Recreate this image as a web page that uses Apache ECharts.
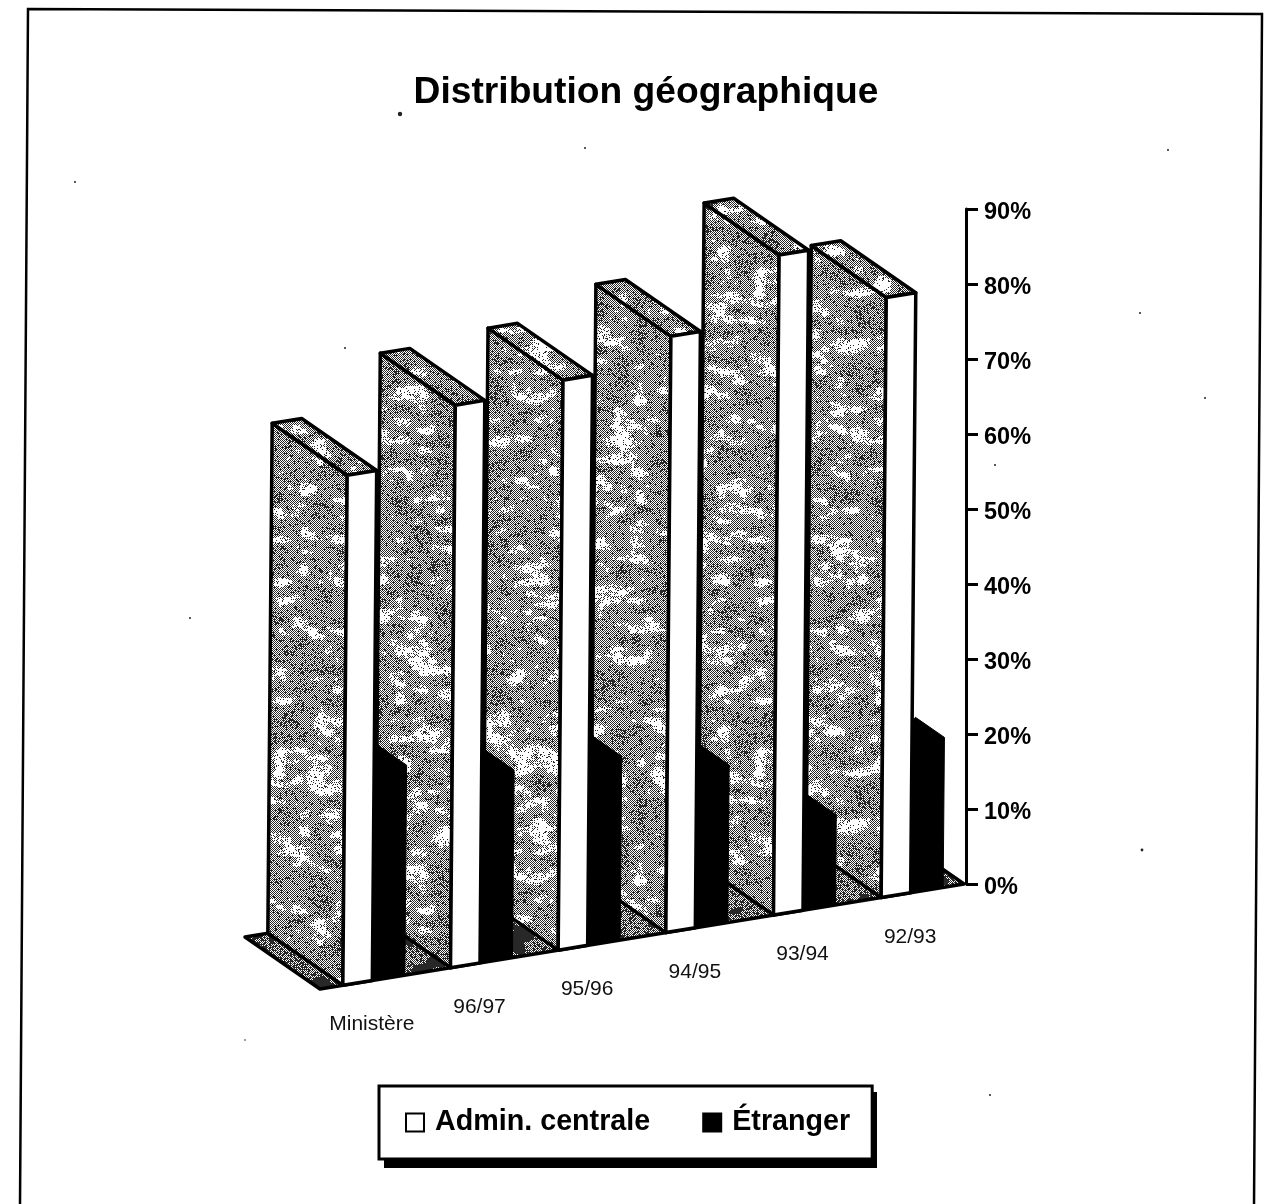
<!DOCTYPE html>
<html><head><meta charset="utf-8">
<style>html,body{margin:0;padding:0;background:#fff}#c{width:1267px;height:1204px}</style>
<script src="https://cdn.jsdelivr.net/npm/echarts@6/dist/echarts.min.js"></script>
</head><body><div id="c"></div>
<script>
const titleText = 'Distribution géographique';
const categories = ['Ministère', '96/97', '95/96', '94/95', '93/94', '92/93'];
const adminCentrale = [68, 75, 76, 79.5, 88, 80];
const etranger = [28, 25, 24.5, 21, 12, 20];

// Oblique projection settings of the 3D look
const FLOOR_SLOPE = 0.163, LEAN = 0.0085, DEPTH_X = -75, DEPTH_Y = -52;

// Stipple texture for side faces: deterministic hash noise on a periodic lattice
function hash2(x, y, seed) {
  let h = Math.imul(x + 11, 374761393) + Math.imul(y + 7, 668265263) + Math.imul(seed, 2147483647);
  h = Math.imul(h ^ (h >>> 13), 1274126177);
  return ((h ^ (h >>> 16)) >>> 0) / 4294967296;
}
function noise(x, y, cw, ch, S, seed) {
  const nx = Math.round(S / cw), ny = Math.round(S / ch);
  const gx = x / cw, gy = y / ch, ix = Math.floor(gx), iy = Math.floor(gy);
  const s = t => t * t * (3 - 2 * t), fx = s(gx - ix), fy = s(gy - iy);
  const v = (a, b) => hash2(a % nx, b % ny, seed);
  const top = v(ix, iy) * (1 - fx) + v(ix + 1, iy) * fx;
  const bot = v(ix, iy + 1) * (1 - fx) + v(ix + 1, iy + 1) * fx;
  return top * (1 - fy) + bot * fy;
}
function makeTexture(dark) {
  const S = 480, cv = document.createElement('canvas');
  cv.width = cv.height = S;
  const g = cv.getContext('2d'), img = g.createImageData(S, S);
  for (let y = 0; y < S; y++) for (let x = 0; x < S; x++) {
    const f = 0.6 * noise(x, y, 20, 10, S, 1) + 0.4 * noise(x, y, 8, 6, S, 2);
    const r = hash2(x, y, 3);
    const chk = (x + y) % 2 === 0;
    let on;
    if (dark) on = f < 0.42 ? true : chk || r < 0.3;
    else if (f > 0.71) on = r < 0.1;             // pale blotch
    else if (f > 0.62) on = chk && r < 0.6;
    else if (f < 0.36) on = chk || r < 0.3;      // darker patch
    else on = chk || r < 0.08;
    const v = on ? 40 : 255, k = (x + y * S) * 4;
    img.data[k] = img.data[k + 1] = img.data[k + 2] = v; img.data[k + 3] = 255;
  }
  g.putImageData(img, 0, 0);
  return { image: cv, repeat: 'repeat' };
}
const sideFill = makeTexture(false), floorFill = makeTexture(true);

function floorAt(params, api) {
  const sys = params.coordSys, y0 = api.coord([0, 0])[1], xR = sys.x + sys.width;
  return x => y0 + (xR - x) * FLOOR_SLOPE;
}
const poly = (points, fill, z2, lineWidth) => ({
  type: 'polygon', z2, shape: { points },
  style: { fill, stroke: '#000', lineWidth: lineWidth, lineJoin: 'round' }
});

function renderFloor(params, api) {
  const sys = params.coordSys, f = floorAt(params, api);
  const xL = sys.x + 2, xR = sys.x + sys.width;
  return poly([[xL, f(xL)], [xR, f(xR)], [xR + DEPTH_X, f(xR) + DEPTH_Y], [xL + DEPTH_X, f(xL) + DEPTH_Y]], floorFill, 1, 3.5);
}
function renderAdmin(params, api) {
  const i = api.value(0), c = api.coord([i, 0])[0], h = api.size([0, api.value(1)])[1];
  const f = floorAt(params, api), xl = c - 29, xr = c + 0.5, ln = LEAN * h;
  const bl = [xl, f(xl)], br = [xr, f(xr)], tl = [xl + ln, f(xl) - h], tr = [xr + ln, f(xr) - h];
  const back = p => [p[0] + DEPTH_X, p[1] + DEPTH_Y];
  const z = 100 - i * 10;
  return { type: 'group', children: [
    poly([back(bl), bl, tl, back(tl)], sideFill, z, 3.5),
    poly([back(tl), tl, tr, back(tr)], sideFill, z + 1, 3.5),
    poly([bl, br, tr, tl], '#fff', z + 2, 3.5)
  ] };
}
function renderEtranger(params, api) {
  const i = api.value(0), c = api.coord([i, 0])[0], h = api.size([0, api.value(1)])[1];
  const f = floorAt(params, api), xl = c + 0.5, xr = c + 33, ln = LEAN * h;
  const tr = [xr + ln, f(xr) - h];
  const tl = [tr[0] - 29, tr[1] + 29 * DEPTH_Y / -DEPTH_X];
  return poly([[xl, f(xl)], [xr, f(xr)], tr, tl, [xl + ln, tl[1] + 4]], '#000', 1, 1);
}
function renderLabels(params, api) {
  const c = api.coord([api.value(0), 0])[0], f = floorAt(params, api);
  return { type: 'text', z2: 5, style: {
    x: c, y: f(c) + 44, text: categories[api.value(0)], fill: '#111',
    font: '21px "Liberation Sans"', align: 'center', verticalAlign: 'middle' } };
}

const specks = [[400, 114, 2.2], [585, 148, 1], [75, 182, 1], [1168, 150, 1], [1140, 313, 1], [345, 348, 1],
  [995, 465, 1], [1205, 398, 1], [190, 618, 1], [1142, 850, 1.4], [1015, 808, 1], [990, 1095, 1], [245, 1040, 0.8]];

const chart = echarts.init(document.getElementById('c'), null, { renderer: 'canvas' });
chart.setOption({
  animation: false,
  backgroundColor: '#fff',
  title: { text: titleText, left: 641, textAlign: 'center', top: 69,
    textStyle: { color: '#000', fontFamily: 'Liberation Sans', fontWeight: 'bold', fontSize: 37.2 } },
  legend: {
    data: ['Admin. centrale', 'Étranger'], left: 379, top: 1086, orient: 'horizontal', z: 10,
    padding: [22, 22, 22, 26], itemGap: 52, itemWidth: 18, itemHeight: 18, icon: 'rect',
    backgroundColor: '#fff', borderColor: '#000', borderWidth: 3, borderRadius: 0,
    selectedMode: false,
    textStyle: { color: '#000', fontFamily: 'Liberation Sans', fontWeight: 'bold', fontSize: 28.7, padding: [0, 0, 0, 6] }
  },
  grid: { left: 318, top: 209, width: 646, height: 675, containLabel: false },
  xAxis: { type: 'category', data: categories, show: false },
  yAxis: { type: 'value', position: 'right', offset: 2, min: 0, max: 90, interval: 10,
    splitLine: { show: false },
    axisLine: { show: true, lineStyle: { color: '#000', width: 3 } },
    axisTick: { show: true, length: 12, lineStyle: { color: '#000', width: 3 } },
    axisLabel: { margin: 18, color: '#000', fontFamily: 'Liberation Sans', fontWeight: 'bold', fontSize: 23.5,
      verticalAlign: 'top', lineHeight: 8, formatter: '{value}%' } },
  graphic: [
    { type: 'polyline', silent: true, z: 0,
      shape: { points: [[20, 1204], [28, 9], [1262, 14], [1254, 1204]] },
      style: { fill: 'none', stroke: '#000', lineWidth: 2.5 } },
    { type: 'rect', silent: true, z: 1,
      shape: { x: 384, y: 1092, width: 493, height: 76 }, style: { fill: '#000' } }
  ].concat(specks.map(s => ({ type: 'circle', silent: true, z: 0,
      shape: { cx: s[0], cy: s[1], r: s[2] }, style: { fill: '#222' } }))),
  series: [
    { type: 'custom', name: 'Sol', z: 1, renderItem: renderFloor, data: [[0, 0]], silent: true },
    { type: 'custom', name: 'Admin. centrale', z: 2, renderItem: renderAdmin, clip: false, silent: true,
      itemStyle: { color: '#fff', borderColor: '#000', borderWidth: 2 },
      data: adminCentrale.map((v, i) => [i, v]) },
    { type: 'custom', name: 'Étranger', z: 3, renderItem: renderEtranger, clip: false, silent: true,
      itemStyle: { color: '#000', borderColor: '#000', borderWidth: 2 },
      data: etranger.map((v, i) => [i, v]) },
    { type: 'custom', name: 'Étiquettes', z: 4, renderItem: renderLabels, clip: false, silent: true,
      data: categories.map((n, i) => [i, 0]) }
  ]
});
</script></body></html>
